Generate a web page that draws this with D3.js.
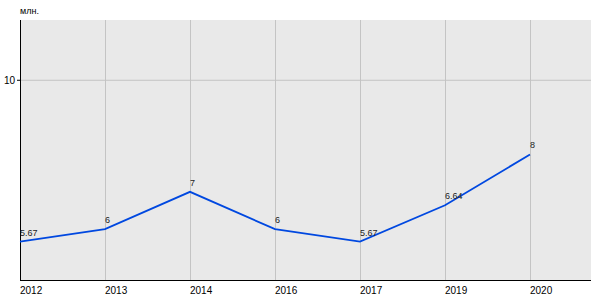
<!DOCTYPE html>
<html>
<head>
<meta charset="utf-8">
<script src="https://cdn.jsdelivr.net/npm/d3@7"></script>
<style>
  body { margin: 0; background: #fff; }
  text { font-family: "Liberation Sans", Arial, sans-serif; }
</style>
</head>
<body>
<div id="container"></div>
<script>
let w = 600;
let h = 300;

let years = ["2012", "2013", "2014", "2016", "2017", "2019", "2020"];
let values = [5.67, 6, 7, 6, 5.67, 6.64, 8];
let labels = ["5.67", "6", "7", "6", "5.67", "6.64", "8"];
let yTicks = [10];

let plotL = 20, plotR = 591, plotT = 20, plotB = 280;

let viz = d3.select("#container")
  .append("svg")
    .attr("width", w)
    .attr("height", h)
;

let x = d3.scalePoint().domain(years).range([plotL, 530]);
let y = d3.scaleLinear().domain([4.64, 11.6]).range([plotB, plotT]);

// plot background
viz.append("rect")
    .attr("x", plotL)
    .attr("y", plotT)
    .attr("width", plotR - plotL)
    .attr("height", plotB - plotT)
    .attr("fill", "#e9e9e9")
;

// vertical grid
viz.selectAll(".vgrid").data(years).enter()
  .append("line")
    .attr("x1", d => x(d) + 0.5).attr("x2", d => x(d) + 0.5)
    .attr("y1", plotT).attr("y2", plotB)
    .attr("stroke", "#c4c4c4")
    .attr("stroke-width", 1)
;

// horizontal grid
viz.selectAll(".hgrid").data(yTicks).enter()
  .append("line")
    .attr("x1", plotL).attr("x2", plotR)
    .attr("y1", d => y(d) + 0.5).attr("y2", d => y(d) + 0.5)
    .attr("stroke", "#c4c4c4")
;

// axes
viz.append("line")
    .attr("x1", plotL + 0.5).attr("x2", plotL + 0.5)
    .attr("y1", plotT).attr("y2", plotB)
    .attr("stroke", "#000")
;
viz.append("line")
    .attr("x1", plotL).attr("x2", plotR)
    .attr("y1", plotB + 0.5).attr("y2", plotB + 0.5)
    .attr("stroke", "#000")
;

viz.selectAll(".ytick").data(yTicks).enter()
  .append("line")
    .attr("x1", plotL - 3).attr("x2", plotL)
    .attr("y1", d => y(d) + 0.5).attr("y2", d => y(d) + 0.5)
    .attr("stroke", "#000")
;
viz.selectAll(".ylab").data(yTicks).enter()
  .append("text")
    .attr("x", plotL - 5)
    .attr("y", d => y(d) + 4)
    .attr("text-anchor", "end")
    .attr("font-size", 10)
    .text(d => d)
;

viz.selectAll(".xlab").data(years).enter()
  .append("text")
    .attr("x", d => x(d))
    .attr("y", 294)
    .attr("font-size", 10)
    .text(d => d)
;

viz.append("text")
    .attr("x", plotL)
    .attr("y", 14)
    .attr("font-size", 9)
    .text("млн.")
;

// line
let line = d3.line()
    .x((d, i) => x(years[i]))
    .y(d => y(d));

viz.append("path")
    .datum(values)
    .attr("d", line)
    .attr("fill", "none")
    .attr("stroke", "#0048e0")
    .attr("stroke-width", 1.8)
;

viz.selectAll(".vlab").data(values).enter()
  .append("text")
    .attr("x", (d, i) => x(years[i]))
    .attr("y", d => y(d) - 6)
    .attr("font-size", 9)
    .attr("fill", "#222")
    .text((d, i) => labels[i])
;
</script>
</body>
</html>
